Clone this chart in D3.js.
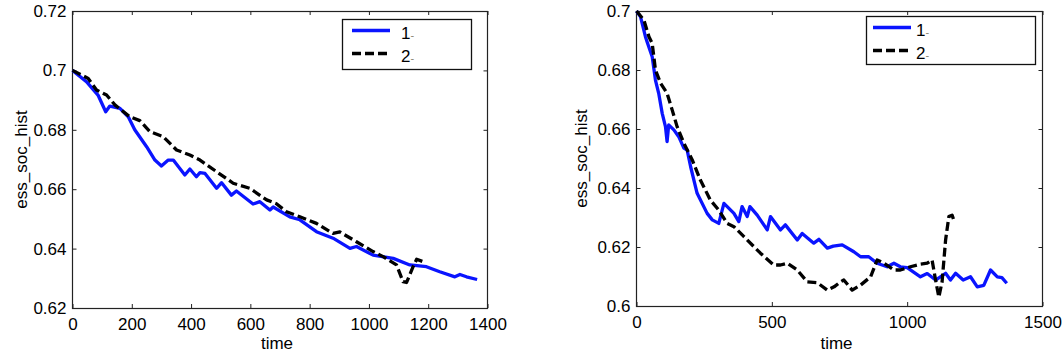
<!DOCTYPE html>
<html>
<head>
<meta charset="utf-8">
<script src="https://cdn.jsdelivr.net/npm/d3@7"></script>
<style>
  body { margin: 0; background: #fff; }
  svg { display: block; font-family: "Liberation Sans", Arial, sans-serif; }
</style>
</head>
<body>
<svg id="chart" width="1062" height="352"></svg>
<script>
// ---- data: [time, ess_soc_hist] ----
const leftSeries1 = [
  [0, 0.700], [47, 0.6962], [86, 0.6917], [112, 0.6861], [126, 0.6880], [160, 0.6872],
  [188, 0.6844], [210, 0.6800], [250, 0.6743], [278, 0.6698], [300, 0.6678], [323, 0.6698],
  [340, 0.6698], [379, 0.6648], [396, 0.6668], [418, 0.6642], [430, 0.6656], [447, 0.6653],
  [486, 0.6603], [503, 0.6622], [536, 0.6580], [553, 0.6594], [609, 0.6550], [632, 0.6558],
  [666, 0.6530], [677, 0.6540], [733, 0.6507], [767, 0.6497], [823, 0.6457], [879, 0.6435],
  [936, 0.6401], [958, 0.6407], [1014, 0.6378], [1082, 0.6367], [1138, 0.6345], [1194, 0.6339],
  [1239, 0.6322], [1290, 0.6305], [1307, 0.6313], [1329, 0.6305], [1365, 0.6296]
];
const leftSeries2 = [
  [0, 0.700], [53, 0.6973], [81, 0.6934], [115, 0.6917], [143, 0.6884], [193, 0.6844],
  [227, 0.6831], [261, 0.6794], [306, 0.6777], [351, 0.6732], [396, 0.6715], [430, 0.6698],
  [486, 0.6659], [542, 0.6620], [598, 0.6603], [655, 0.6564], [688, 0.6551], [722, 0.6524],
  [767, 0.6507], [823, 0.6485], [879, 0.6451], [902, 0.6456], [958, 0.6423], [1014, 0.6390],
  [1048, 0.6373], [1093, 0.6345], [1115, 0.6289], [1127, 0.6286], [1149, 0.6339], [1161, 0.6364],
  [1183, 0.6356]
];
const rightSeries1 = [
  [0, 0.700], [15, 0.6980], [33, 0.6913], [39, 0.6896], [58, 0.6845], [70, 0.6766],
  [82, 0.6721], [95, 0.6653], [107, 0.6608], [113, 0.6557], [119, 0.6614], [138, 0.6597],
  [156, 0.6574], [175, 0.6535], [187, 0.6529], [200, 0.6472], [224, 0.6382], [261, 0.6314],
  [280, 0.6292], [304, 0.6280], [323, 0.6348], [360, 0.6314], [378, 0.6286], [390, 0.6337],
  [409, 0.6303], [419, 0.6337], [446, 0.6308], [483, 0.6258], [495, 0.6303], [532, 0.6258],
  [550, 0.6275], [594, 0.6224], [612, 0.6246], [655, 0.6213], [674, 0.6226], [705, 0.6196],
  [727, 0.6203], [760, 0.6207], [803, 0.6184], [828, 0.6167], [858, 0.6167], [889, 0.6145],
  [926, 0.6133], [951, 0.6145], [975, 0.6133], [1000, 0.6130], [1049, 0.6099], [1074, 0.6110],
  [1105, 0.6088], [1142, 0.6111], [1160, 0.6088], [1179, 0.6111], [1207, 0.6088], [1234, 0.6099],
  [1259, 0.6065], [1283, 0.6070], [1308, 0.6122], [1333, 0.6099], [1350, 0.6096], [1368, 0.6077]
];
const rightSeries2 = [
  [0, 0.700], [27, 0.6970], [46, 0.6913], [58, 0.6890], [70, 0.6800], [89, 0.6755],
  [113, 0.6721], [132, 0.6664], [150, 0.6608], [175, 0.6552], [206, 0.6495], [236, 0.6427],
  [273, 0.6359], [304, 0.6325], [335, 0.6280], [360, 0.6269], [397, 0.6235], [458, 0.6179],
  [507, 0.6139], [532, 0.6139], [557, 0.6145], [594, 0.6122], [631, 0.6082], [668, 0.6079],
  [705, 0.6054], [730, 0.6065], [754, 0.6082], [766, 0.6088], [797, 0.6054], [828, 0.6071],
  [865, 0.6099], [889, 0.6156], [914, 0.6145], [951, 0.6122], [975, 0.6122], [1012, 0.6133],
  [1049, 0.6142], [1074, 0.6145], [1092, 0.6156], [1105, 0.6088], [1117, 0.6030], [1129, 0.6082],
  [1142, 0.6224], [1154, 0.6303], [1166, 0.6308], [1172, 0.6292]
];

const leftTimeTicks = [0, 200, 400, 600, 800, 1000, 1200, 1400];
const leftSocTicks = [0.62, 0.64, 0.66, 0.68, 0.7, 0.72];
const rightTimeTicks = [0, 500, 1000, 1500];
const rightSocTicks = [0.6, 0.62, 0.64, 0.66, 0.68, 0.7];
const legendLabels = ["1", "2"];

// ---- layout ----
const panels = [
  {
    left: 72.5, right: 487.5, top: 11, bottom: 308,
    xDomain: [0, 1400], xTicks: leftTimeTicks,
    yDomain: [0.62, 0.72], yTicks: leftSocTicks,
    series: [leftSeries1, leftSeries2],
    legend: { x: 342.5, y: 19.5, w: 129, h: 50, lineX: 352, lineLen: 38, textX: 401 },
    yLabelX: 27
  },
  {
    left: 636.5, right: 1042.5, top: 11, bottom: 306,
    xDomain: [0, 1500], xTicks: rightTimeTicks,
    yDomain: [0.6, 0.7], yTicks: rightSocTicks,
    series: [rightSeries1, rightSeries2],
    legend: { x: 866.5, y: 16.5, w: 169, h: 48, lineX: 873, lineLen: 38, textX: 916 },
    yLabelX: 587
  }
];

const seriesStyle = [
  { stroke: "#0a14ff", dash: null },
  { stroke: "#000", dash: "9,4" }
];

const svg = d3.select("#chart");
const fmt = d => String(+d.toFixed(2));

function styleAxis(g) {
  g.select(".domain").remove();
  g.selectAll("line").attr("stroke", "#222");
  g.attr("font-family", null).attr("font-size", 17);
  g.selectAll("text").attr("fill", "#000");
}

panels.forEach(p => {
  const x = d3.scaleLinear().domain(p.xDomain).range([p.left, p.right]);
  const y = d3.scaleLinear().domain(p.yDomain).range([p.bottom, p.top]);
  const g = svg.append("g");

  // ticks on all four sides, pointing inward
  g.append("g").attr("transform", `translate(0,${p.bottom})`)
    .call(d3.axisBottom(x).tickValues(p.xTicks).tickSizeInner(-4).tickSizeOuter(0).tickPadding(10).tickFormat(d3.format("d")))
    .call(styleAxis);
  g.append("g").attr("transform", `translate(0,${p.top})`)
    .call(d3.axisTop(x).tickValues(p.xTicks).tickSizeInner(-4).tickSizeOuter(0).tickFormat(""))
    .call(styleAxis);
  g.append("g").attr("transform", `translate(${p.left},0)`)
    .call(d3.axisLeft(y).tickValues(p.yTicks).tickSizeInner(-4).tickSizeOuter(0).tickPadding(6).tickFormat(fmt))
    .call(styleAxis);
  g.append("g").attr("transform", `translate(${p.right},0)`)
    .call(d3.axisRight(y).tickValues(p.yTicks).tickSizeInner(-4).tickSizeOuter(0).tickFormat(""))
    .call(styleAxis);

  g.append("rect")
    .attr("x", p.left).attr("y", p.top + 0.5)
    .attr("width", p.right - p.left).attr("height", p.bottom - p.top)
    .attr("fill", "none").attr("stroke", "#222").attr("stroke-width", 1.2);

  // data lines
  const line = d3.line().x(d => x(d[0])).y(d => y(d[1]));
  p.series.forEach((s, i) => {
    g.append("path")
      .datum(s)
      .attr("d", line)
      .attr("fill", "none")
      .attr("stroke", seriesStyle[i].stroke)
      .attr("stroke-width", 3.3)
      .attr("stroke-linejoin", "round")
      .attr("stroke-dasharray", seriesStyle[i].dash);
  });

  // axis titles
  g.append("text")
    .attr("x", (p.left + p.right) / 2 - 3).attr("y", 349)
    .attr("text-anchor", "middle").attr("font-size", 17)
    .text("time");
  g.append("text")
    .attr("transform", `translate(${p.yLabelX},${(p.top + p.bottom) / 2}) rotate(-90)`)
    .attr("text-anchor", "middle").attr("font-size", 17)
    .text("ess_soc_hist");

  // legend
  const L = p.legend;
  const lg = g.append("g");
  lg.append("rect")
    .attr("x", L.x).attr("y", L.y).attr("width", L.w).attr("height", L.h)
    .attr("fill", "#fff").attr("stroke", "#111").attr("stroke-width", 1.3);
  legendLabels.forEach((lab, i) => {
    const ly = L.y + 11 + i * 23;
    lg.append("line")
      .attr("x1", L.lineX).attr("x2", L.lineX + L.lineLen)
      .attr("y1", ly).attr("y2", ly)
      .attr("stroke", seriesStyle[i].stroke).attr("stroke-width", 3.3)
      .attr("stroke-dasharray", seriesStyle[i].dash);
    const t = lg.append("text")
      .attr("x", L.textX).attr("y", ly + 8)
      .attr("font-size", 17);
    t.append("tspan").text(lab);
    t.append("tspan").attr("font-size", 11).attr("fill", "#8a8570").text("-");
  });
});
</script>
</body>
</html>
